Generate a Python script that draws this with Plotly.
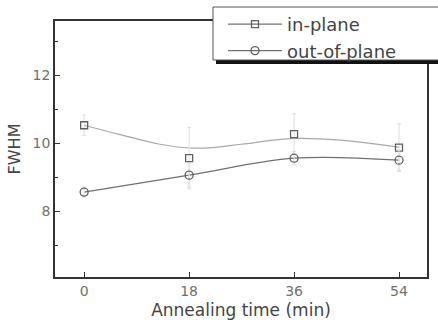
import plotly.graph_objects as go

# ---- data ----
time_min = [0, 18, 36, 54]
inplane_fwhm = [10.53, 9.56, 10.27, 9.87]
inplane_err = [0.3, 0.9, 0.6, 0.7]
outplane_fwhm = [8.56, 9.06, 9.56, 9.50]
outplane_err = [0.15, 0.35, 0.2, 0.3]
# smooth fit curve drawn through the in-plane data
inplane_fit_x = [0, 6, 13, 18, 22, 27, 36, 44, 54]
inplane_fit_y = [10.53, 10.26, 9.97, 9.86, 9.87, 9.97, 10.14, 10.09, 9.88]
x_ticks = [0, 18, 36, 54]
y_ticks = [8, 10, 12]

FONT = "DejaVu Sans"
fig = go.Figure()

fig.add_trace(go.Scatter(x=inplane_fit_x, y=inplane_fit_y, mode="lines",
                         line=dict(color="#a8a8a8", width=1.2, shape="spline"),
                         showlegend=False, hoverinfo="skip"))
fig.add_trace(go.Scatter(x=time_min, y=outplane_fwhm, mode="lines",
                         line=dict(color="#707070", width=1.3, shape="spline"),
                         showlegend=False, hoverinfo="skip"))
fig.add_trace(go.Scatter(x=time_min, y=inplane_fwhm, mode="markers",
                         marker=dict(symbol="square-open", size=7, color="#606060",
                                     line=dict(width=1.3, color="#606060")),
                         error_y=dict(type="data", array=inplane_err, color="#dedede",
                                      thickness=1, width=2),
                         showlegend=False))
fig.add_trace(go.Scatter(x=time_min, y=outplane_fwhm, mode="markers",
                         marker=dict(symbol="circle-open", size=8, color="#606060",
                                     line=dict(width=1.3, color="#606060")),
                         error_y=dict(type="data", array=outplane_err, color="#dedede",
                                      thickness=1, width=2),
                         showlegend=False))
fig.add_trace(go.Scatter(x=[None], y=[None], mode="lines+markers", name="in-plane",
                         line=dict(color="#707070", width=1.2),
                         marker=dict(symbol="square-open", size=7, color="#606060",
                                     line=dict(width=1.3, color="#606060"))))
fig.add_trace(go.Scatter(x=[None], y=[None], mode="lines+markers", name="out-of-plane",
                         line=dict(color="#707070", width=1.2),
                         marker=dict(symbol="circle-open", size=8, color="#606060",
                                     line=dict(width=1.3, color="#606060"))))

L, R, T, B = 55, 11, 21, 43
W, H = 438, 320
pw, ph = W - L - R, H - T - B

def px_x(px):
    return (px - L) / pw

def px_y(py):
    return (H - B - py) / ph

shapes = [
    dict(type="rect", xref="paper", yref="paper", layer="above",
         x0=px_x(216), x1=px_x(450), y0=px_y(64), y1=px_y(55),
         fillcolor="#111111", line=dict(width=0)),
    dict(type="rect", xref="paper", yref="paper", layer="above",
         x0=px_x(213), x1=px_x(450), y0=px_y(60), y1=px_y(7),
         fillcolor="white", line=dict(width=1, color="#555555")),
]

fig.update_layout(
    width=W, height=H,
    margin=dict(l=L, r=R, t=T, b=B, pad=0, autoexpand=False),
    paper_bgcolor="white", plot_bgcolor="white",
    font=dict(family=FONT, color="#555555"),
    shapes=shapes,
    showlegend=True,
    legend=dict(x=px_x(223), y=px_y(6), xanchor="left", yanchor="top",
                bgcolor="rgba(0,0,0,0)", borderwidth=0,
                font=dict(family=FONT, size=18, color="#444444"),
                itemwidth=54, tracegroupgap=0),
    xaxis=dict(range=[-5, 58.8], tickvals=x_ticks, ticks="inside", ticklen=5,
               tickcolor="#333333", showgrid=False, zeroline=False, automargin=False,
               showline=True, linecolor="#333333", linewidth=1.5, mirror=True,
               tickfont=dict(size=14, color="#707070"),
               title=dict(text="Annealing time (min)", standoff=8,
                          font=dict(size=17, color="#444444"))),
    yaxis=dict(range=[6.06, 13.6], tickvals=y_ticks, ticks="inside", ticklen=5,
               tickcolor="#333333", showgrid=False, zeroline=False, automargin=False,
               showline=True, linecolor="#333333", linewidth=1.5, mirror=True,
               minor=dict(dtick=1, tick0=7, ticks="inside", ticklen=3,
                          tickcolor="#333333", showgrid=False),
               tickfont=dict(size=14, color="#707070"),
               title=dict(text="FWHM", standoff=8,
                          font=dict(size=16, color="#444444"))),
)

fig.write_html("out.html", config={"displayModeBar": False},
               post_script="document.body.style.margin='0';document.body.style.padding='0';")
